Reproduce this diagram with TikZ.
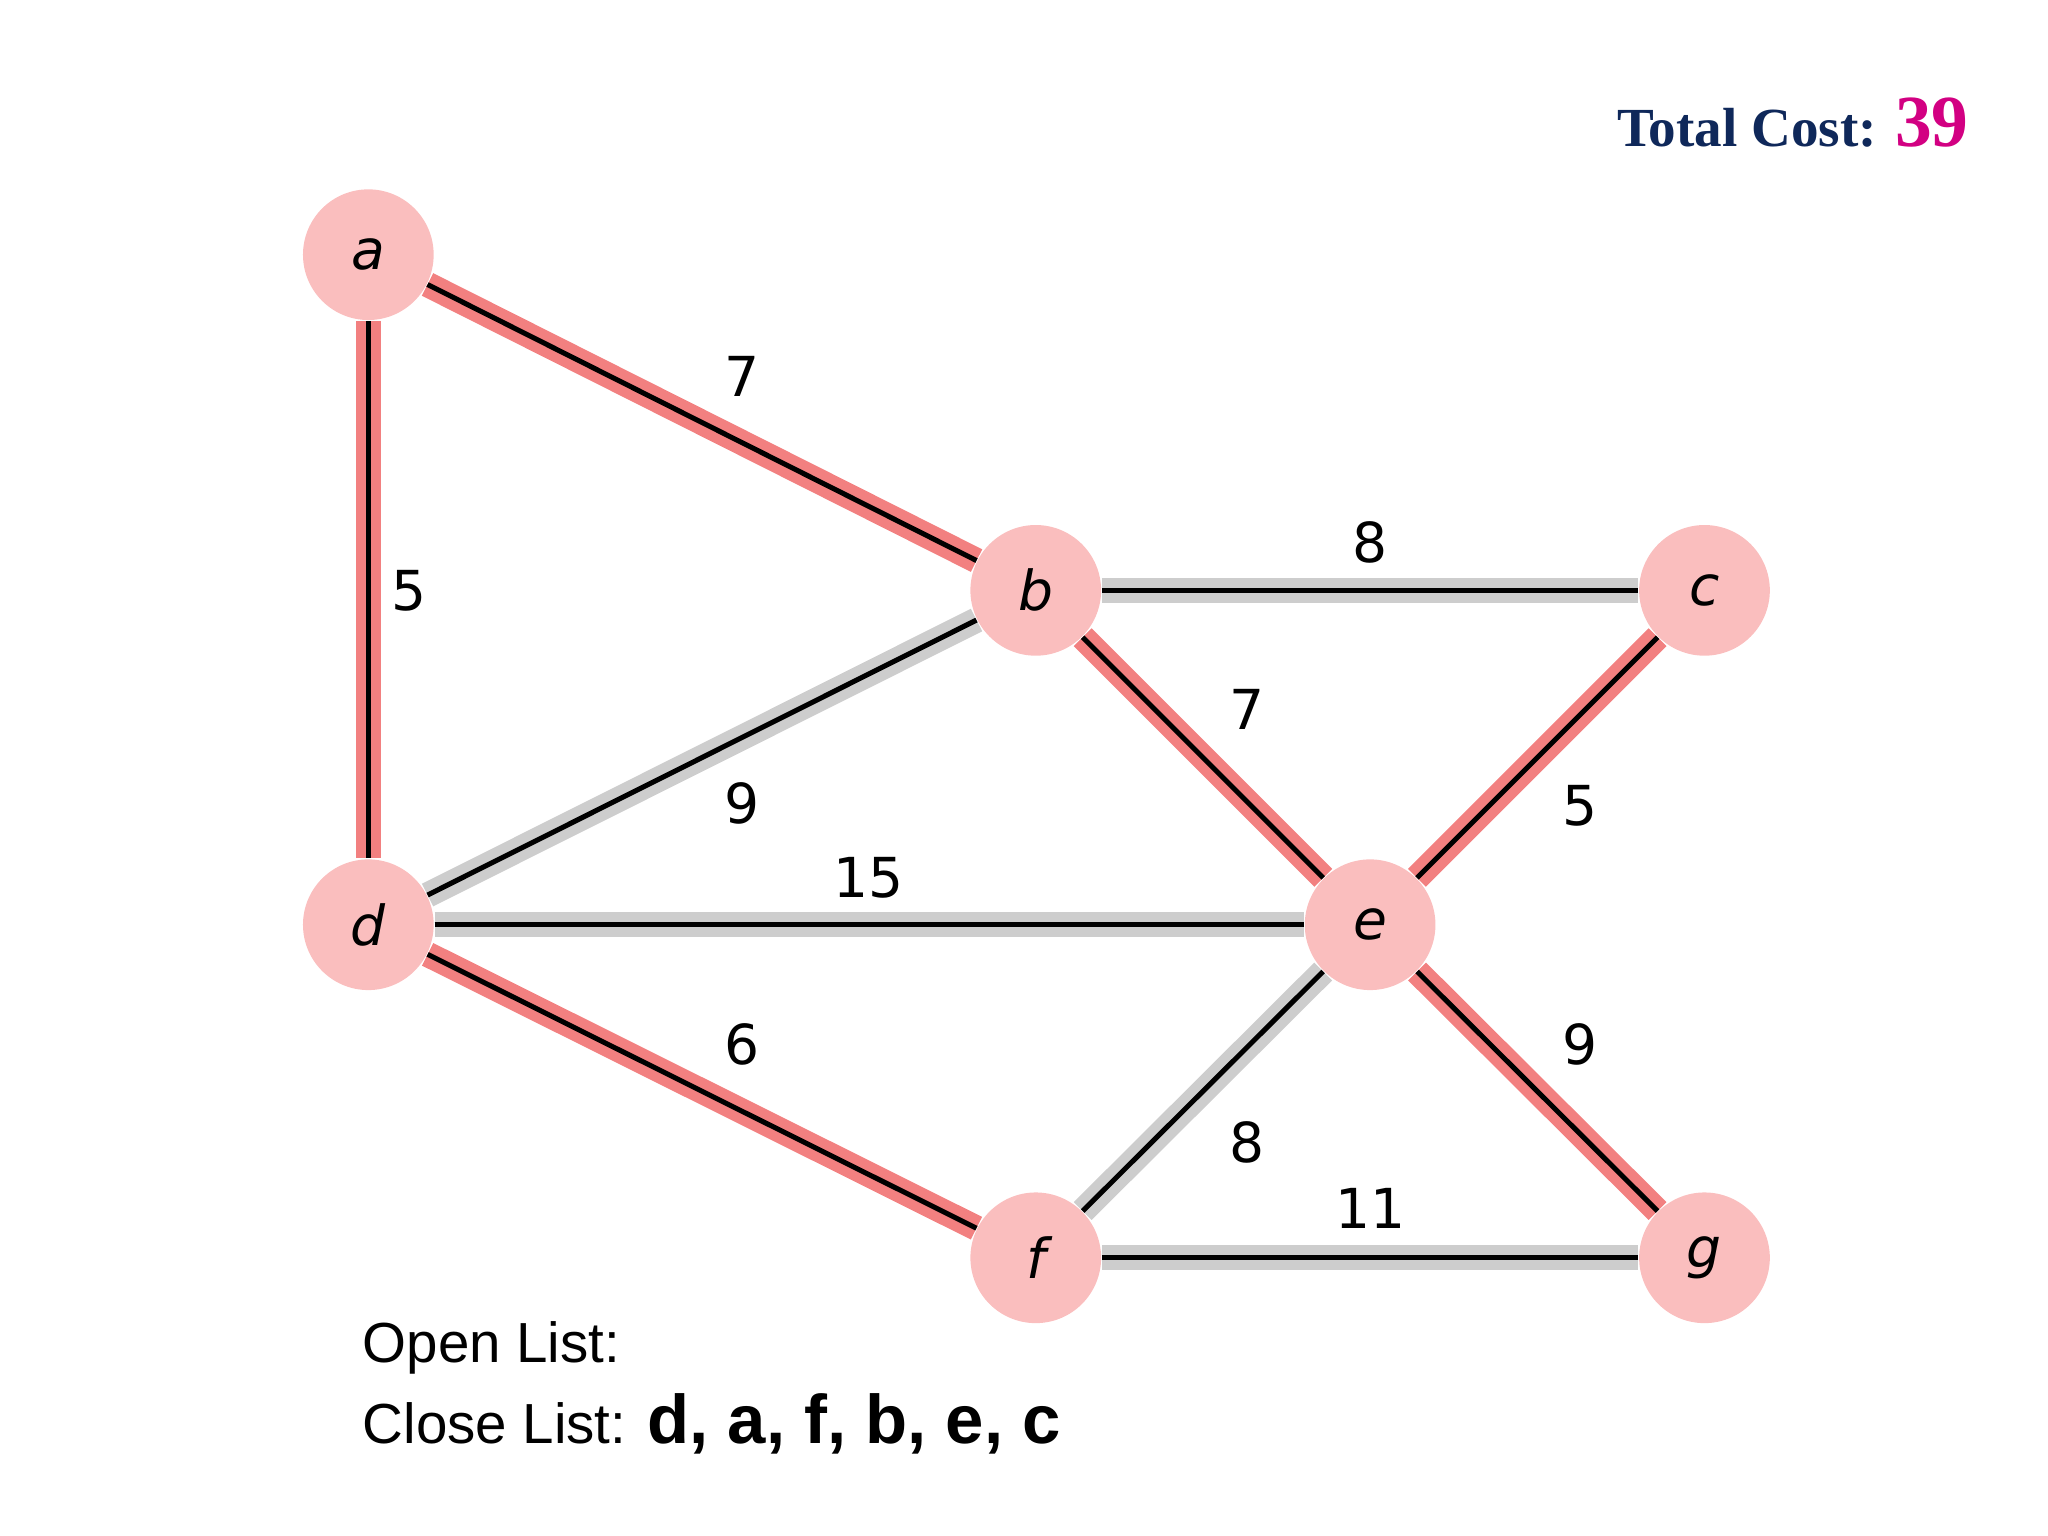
\documentclass[tikz,border=0pt]{standalone}
\usepackage{fontspec}
\setmainfont{Liberation Sans}
\newfontfamily\lblfont{DejaVu Sans}
\newfontfamily\serifb{Liberation Serif}
\definecolor{nodepink}{RGB}{250,190,190}
\definecolor{redband}{RGB}{242,128,128}
\definecolor{grayband}{RGB}{205,205,205}
\definecolor{navy}{RGB}{15,40,90}
\definecolor{mag}{RGB}{210,0,130}
\tikzset{
  vtx/.style={circle,fill=nodepink,minimum size=1cm,inner sep=0pt,font=\lblfont\itshape\fontsize{12}{12}\selectfont},
  redge/.style={draw=redband,line width=5.5pt},
  gedge/.style={draw=grayband,line width=5.5pt},
  core/.style={draw=black,line width=1.1pt},
  wlab/.style={font=\lblfont\fontsize{12}{12}\selectfont}
}
\begin{document}
\begin{tikzpicture}[x=0.01cm,y=-0.01cm]
\useasboundingbox (0,0) rectangle (1568,1176);
\node[vtx] (a) at (282,195) {a};
\node[vtx] (b) at (793,452) {b};
\node[vtx] (c) at (1305,452) {c};
\node[vtx] (d) at (282,708) {d};
\node[vtx] (e) at (1049,708) {e};
\node[vtx] (f) at (793,963) {f};
\node[vtx] (g) at (1305,963) {g};
\foreach \u/\v in {b/c,b/d,d/e,e/f,f/g}{
  \draw[gedge] (\u) -- (\v); \draw[core] (\u) -- (\v);}
\foreach \u/\v in {a/b,a/d,b/e,c/e,d/f,e/g}{
  \draw[redge] (\u) -- (\v); \draw[core] (\u) -- (\v);}
\node[wlab] (l1) at (568,288) {7};
\node[wlab] (l2) at (313,452) {5};
\node[wlab] (l3) at (1049,415) {8};
\node[wlab] (l4) at (955,543) {7};
\node[wlab] (l5) at (568,615) {9};
\node[wlab] (l6) at (1210,617) {5};
\node[wlab] (l7) at (665,672) {15};
\node[wlab] (l8) at (568,800) {6};
\node[wlab] (l9) at (1210,800) {9};
\node[wlab] (l10) at (955,875) {8};
\node[wlab] (l11) at (1049,925) {11};
\node[anchor=base east,inner sep=0pt] (tc) at (1508,112) {\serifb\bfseries\fontsize{12}{12}\selectfont\color{navy}Total Cost: {\color{mag}\fontsize{16}{16}\selectfont 39}};
\node[anchor=base west,inner sep=0pt,font=\fontsize{12.3}{12}\selectfont] (ol) at (277,1043) {Open List:};
\node[anchor=base west,inner sep=0pt,font=\fontsize{12.3}{12}\selectfont] (cl) at (277,1105) {Close List: {\bfseries\fontsize{15}{15}\selectfont d, a, f, b, e, c}};
\end{tikzpicture}
\end{document}
